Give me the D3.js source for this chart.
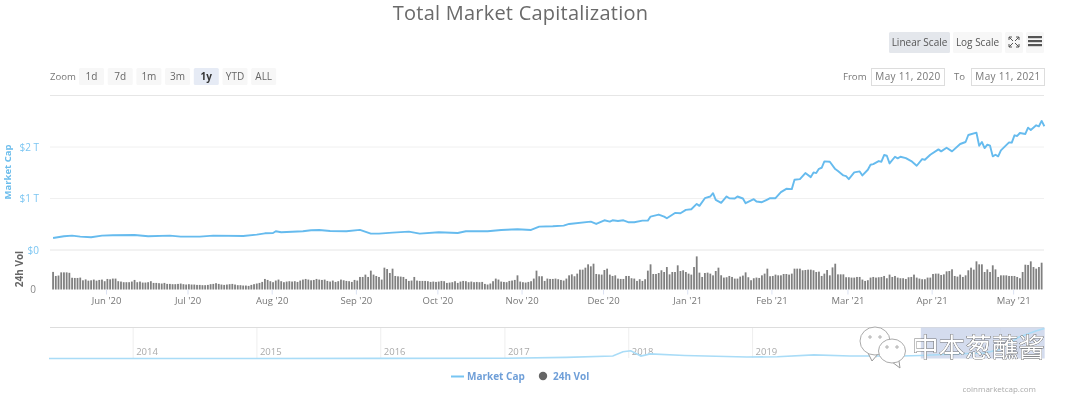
<!DOCTYPE html>
<html>
<head>
<meta charset="utf-8">
<script src="https://cdn.jsdelivr.net/npm/d3@7"></script>
<style>
  html, body { margin: 0; padding: 0; background: #fff; overflow: hidden; }
  svg { display: block; font-family: "Open Sans", "Noto Sans", sans-serif; filter: blur(0.35px); }
  svg text { font-family: "Open Sans", "Noto Sans", sans-serif; }
  .domain { display: none; }
</style>
</head>
<body>
<div id="graph"></div>
<script>
// market cap: days after the first point, value in $T
var capDays = [0,4,7,10,14,18,22,30,35,43,47,54,59,70,75,78,81,82,84,92,95,98,102,108,113,117,120,125,131,135,142,149,152,160,165,171,176,179,184,188,190,
  198,200,203,205,206,208,210,212,214,217,219,220,223,225,226,229,231,233,235,237,238,240,242,243,244,246,248,249,251,252,254,255,258,259,261,263,264,266,268,270,272,273,275,277,279,280,281,282,283,284,286,288,289,291,292,293,295,297,298,300,301,302,304,305,306,307,308,310,311,312,314,316,318,320,321,323,326,327,329,331,334,336,337,340,341,342,343,344,345,346,347,348,349,352,353,354,355,356,358,359,360,362,363,364,365];
var capValues = [.234,.266,.279,.26,.247,.279,.285,.292,.266,.279,.26,.26,.279,.272,.298,.324,.331,.363,.344,.363,.383,.389,.37,.363,.39,.318,.318,.337,.357,.318,.344,.331,.363,.363,.389,.402,.389,.454,.461,.474,.506,
  .55,.506,.577,.551,.577,.564,.577,.538,.538,.571,.571,.649,.688,.649,.616,.72,.714,.779,.792,.895,.857,1.006,1.039,1.104,.974,.916,1.039,1.006,1,1.039,1,.909,.987,.941,.928,.98,1.006,1.006,1.123,1.188,1.182,1.363,1.376,1.493,1.415,1.506,1.493,1.577,1.597,1.72,1.714,1.571,1.532,1.448,1.435,1.376,1.506,1.526,1.448,1.558,1.655,1.668,1.727,1.714,1.844,1.831,1.681,1.811,1.779,1.811,1.785,1.727,1.636,1.766,1.753,1.85,1.954,1.915,1.986,1.915,2.058,2.097,2.233,2.278,2.025,2.097,1.98,2.045,2.025,1.818,1.85,1.818,1.935,2.09,2.084,2.227,2.214,2.272,2.253,2.376,2.33,2.421,2.402,2.506,2.402];

// 24h volume per day, in $B
var volValues = [
  195,150,155,190,190,190,185,130,128,128,132,102,112,98,102,110,98,106,110,92,117,113,121,121,92,88,81,81,81,88,106,
  81,88,77,77,81,92,73,73,70,66,73,62,62,59,59,62,66,59,55,59,55,55,51,51,48,48,51,59,62,70,
  62,55,51,55,59,62,55,48,48,44,44,40,51,59,66,73,84,117,106,92,81,99,110,92,81,88,92,88,92,84,
  99,110,117,110,102,106,117,110,106,110,95,88,99,84,92,110,102,95,92,84,106,99,
  139,139,165,139,209,165,150,139,110,242,
  227,183,231,150,146,143,139,117,95,99,
  139,99,95,95,95,92,84,88,84,88,
  95,92,73,77,81,92,73,88,95,92,
  81,88,81,84,81,84,62,55,66,92,
  121,110,88,84,81,95,99,106,157,88,
  81,77,84,92,121,209,147,147,95,121,
  117,117,121,114,106,99,121,157,168,147,
  176,220,220,242,279,257,286,172,168,165,
  216,231,165,150,157,121,117,117,150,150,
  125,121,95,114,95,114,209,279,172,172,
  183,213,194,249,168,194,194,268,205,213,
  194,176,165,249,367,187,139,183,187,176,
  157,205,242,
  158,132,136,150,139,121,121,143,154,190,
  136,103,125,132,128,157,176,231,147,150,
  165,157,157,172,172,165,176,231,231,231,
  213,216,220,220,213,194,198,150,176,216,
  157,245,286,168,168,168,136,136,132,132,
  139,139,110,95,103,132,139,132,136,139,
  150,125,165,139,150,132,125,125,117,136,
  139,165,132,121,114,114,132,132,172,176,
  176,161,168,201,205,224,150,143,165,139,
  157,213,242,220,312,279,279,194,223,194,
  268,223,139,157,157,157,150,150,150,139,
  125,194,275,272,312,249,231,249,297];

// navigator overview line, whole history
var navDates = ["2013-04-28","2016-01-01","2017-01-01","2017-07-01","2017-11-15","2017-12-15","2018-01-07","2018-02-06","2018-03-05","2018-06-15","2018-12-15","2019-03-15","2019-07-01","2019-10-15","2020-03-15","2020-05-11","2020-08-15","2020-11-15","2021-01-01","2021-02-20","2021-04-15","2021-05-10"];
var navValues = [.002,.007,.018,.09,.2,.55,.63,.2,.38,.25,.12,.14,.3,.2,.2,.25,.37,.45,.75,1.7,2.25,2.45];

var navYears = ["2014","2015","2016","2017","2018","2019","2020","2021"];
var zoomLabels = ["1d","7d","1m","3m","1y","YTD","ALL"];
var capTicks = [0,1,2];

var parseDay = d3.timeParse("%Y-%m-%d");
var rangeStart = new Date(2020, 4, 11);
// the plotted points sit a little after the month ticks would put May 11
var firstPoint = new Date(2020, 4, 12, 12);
function dayAt(i) { return d3.timeDay.offset(firstPoint, i); }

var svg = d3.select("#graph").append("svg")
  .attr("width", 1080)
  .attr("height", 394);

// scales
var graphX = d3.scaleTime().domain([rangeStart, new Date(2021, 4, 12)]).range([49, 1043]);
var capY = d3.scaleLinear().domain([0, 3]).range([250, 95.5]);
var volY = d3.scaleLinear().domain([0, 440]).range([289.5, 249.8]);
var navX = d3.scaleTime().domain([new Date(2013, 3, 28), new Date(2021, 4, 12)]).range([49, 1045]);
var navY = d3.scaleLinear().domain([0, 2.54]).range([358.5, 327.5]);

// title
svg.append("text")
  .attr("x", 520.5).attr("y", 20)
  .attr("text-anchor", "middle")
  .style("font-size", "20px")
  .style("letter-spacing", "0.23px")
  .style("fill", "#6a6a6a")
  .text("Total Market Capitalization");

// small helper for the export style buttons
function button(x, y, w, h, label, fill, color, weight) {
  svg.append("rect").attr("x", x).attr("y", y).attr("width", w).attr("height", h)
    .attr("rx", 1.5).style("fill", fill);
  if (label) {
    svg.append("text").attr("x", x + w / 2).attr("y", y + h / 2 + 3.5)
      .attr("text-anchor", "middle")
      .style("font-size", "10px")
      .style("fill", color)
      .style("font-weight", weight || "normal")
      .text(label);
  }
}

// scale buttons and icons
button(889, 32, 61, 21, "Linear Scale", "#e4e7ec", "#555");
button(953, 32, 49, 21, "Log Scale", "#f7f7f7", "#555");
button(1005, 32, 18, 21, null, "#f7f7f7");
button(1026, 32, 18, 21, null, "#f7f7f7");
[[1009,37,1,1],[1019,37,-1,1],[1009,47,1,-1],[1019,47,-1,-1]].forEach(function(c) {
  svg.append("path")
    .attr("d", "M" + c[0] + "," + c[1] + "h" + 3 * c[2] + "M" + c[0] + "," + c[1] + "v" + 3 * c[3] + "M" + c[0] + "," + c[1] + "l" + 4 * c[2] + "," + 4 * c[3])
    .style("stroke", "#555").style("fill", "none");
});
[37, 41, 45].forEach(function(y) {
  svg.append("rect").attr("x", 1028).attr("y", y - 1).attr("width", 14).attr("height", 2.2).style("fill", "#555");
});

// range selector
svg.append("text").attr("x", 50).attr("y", 80).style("font-size", "9.6px").style("fill", "#777").text("Zoom");
zoomLabels.forEach(function(d, i) {
  var selected = d === "1y";
  button(79 + i * 28.7, 68, 25, 17, d, selected ? "#e6ebf5" : "#f7f7f7", selected ? "#333" : "#666", selected ? "bold" : "normal");
});

function dateBox(x, label) {
  svg.append("rect").attr("x", x + 0.5).attr("y", 68.5).attr("width", 73).attr("height", 17)
    .style("fill", "#fff").style("stroke", "#ddd");
  svg.append("text").attr("x", x + 37).attr("y", 80).attr("text-anchor", "middle")
    .style("font-size", "10px").style("letter-spacing", "0.3px").style("fill", "#777").text(label);
}
svg.append("text").attr("x", 843).attr("y", 80).style("font-size", "9.6px").style("fill", "#777").text("From");
dateBox(871, "May 11, 2020");
svg.append("text").attr("x", 954).attr("y", 80).style("font-size", "9.6px").style("fill", "#777").text("To");
dateBox(971, "May 11, 2021");

// top border of the plot
svg.append("line").attr("x1", 50).attr("x2", 1044).attr("y1", 95.5).attr("y2", 95.5).style("stroke", "#e6e6e6");

// market cap axis and grid
var capAxis = svg.append("g")
  .attr("transform", "translate(50,0)")
  .call(d3.axisLeft(capY).tickValues(capTicks).tickSize(0).tickPadding(11)
    .tickFormat(function(d) { return d === 0 ? "$0" : "$" + d + " T"; }));
capAxis.selectAll("text").style("font-size", "10px").style("fill", "#7cc6f2");

svg.selectAll(".grid").data(capTicks).enter().append("line")
  .attr("class", "grid")
  .attr("x1", 50).attr("x2", 1044)
  .attr("y1", function(d) { return capY(d); })
  .attr("y2", function(d) { return capY(d); })
  .style("stroke", function(d) { return d === 0 ? "#e6e6e6" : "#f0f0f0"; });

svg.append("text")
  .attr("transform", "translate(10.5,172)rotate(-90)")
  .attr("text-anchor", "middle")
  .style("font-size", "9.5px").style("font-weight", "bold").style("fill", "#6cbdec")
  .text("Market Cap");

// volume axis
var volAxis = svg.append("g")
  .attr("transform", "translate(50,0)")
  .call(d3.axisLeft(volY).tickValues([0]).tickSize(0).tickPadding(14));
volAxis.selectAll("text").style("font-size", "10px").style("fill", "#888");

svg.append("text")
  .attr("transform", "translate(22.5,269)rotate(-90)")
  .attr("text-anchor", "middle")
  .style("font-size", "10px").style("font-weight", "bold").style("fill", "#666")
  .text("24h Vol");

// volume bars
svg.selectAll(".bar").data(volValues).enter().append("rect")
  .attr("class", "bar")
  .attr("x", function(d, i) { return graphX(dayAt(i)) - 0.9; })
  .attr("y", function(d) { return volY(d); })
  .attr("width", 1.8)
  .attr("height", function(d) { return volY(0) - volY(d); })
  .style("fill", "#808080");

// market cap line
var capLine = d3.line()
  .x(function(d) { return graphX(dayAt(d)); })
  .y(function(d, i) { return capY(capValues[i]); });
svg.append("path")
  .datum(capDays)
  .attr("d", capLine)
  .style("fill", "none")
  .style("stroke", "#66bbee")
  .style("stroke-width", 1.9)
  .style("stroke-linejoin", "round");

// x axis
var xAxis = svg.append("g")
  .attr("transform", "translate(0,289.5)")
  .call(d3.axisBottom(graphX)
    .tickValues(d3.timeMonth.range(new Date(2020, 5, 1), new Date(2021, 5, 1)))
    .tickSize(5).tickPadding(3)
    .tickFormat(d3.timeFormat("%b '%y")));
xAxis.selectAll("line").style("stroke", "#dbe2f2");
xAxis.selectAll("text").style("font-size", "9.5px").style("fill", "#777");

// navigator
svg.append("line").attr("x1", 50).attr("x2", 1044).attr("y1", 327.5).attr("y2", 327.5).style("stroke", "#ddd");
var navYearDates = navYears.map(function(d) { return new Date(+d, 0, 1); });
svg.selectAll(".navgrid").data(navYearDates).enter().append("line")
  .attr("class", "navgrid")
  .attr("x1", function(d) { return navX(d); })
  .attr("x2", function(d) { return navX(d); })
  .attr("y1", 328).attr("y2", 358)
  .style("stroke", "#eee");
svg.selectAll(".navlabel").data(navYears).enter().append("text")
  .attr("class", "navlabel")
  .attr("x", function(d) { return navX(new Date(+d, 0, 1)) + 3; })
  .attr("y", 355)
  .style("font-size", "9.5px").style("fill", "#aaa")
  .text(function(d) { return d; });

// selected window in the navigator
svg.append("rect")
  .attr("x", navX(rangeStart)).attr("y", 327.5)
  .attr("width", navX(new Date(2021, 4, 11)) - navX(rangeStart)).attr("height", 31)
  .style("fill", "#ccd6eb").style("opacity", 0.85);

var navLine = d3.line()
  .x(function(d) { return navX(parseDay(d)); })
  .y(function(d, i) { return navY(navValues[i]); });
svg.append("path")
  .datum(navDates)
  .attr("d", navLine)
  .style("fill", "none")
  .style("stroke", "#a9dcf7")
  .style("stroke-width", 1.6);

// legend
svg.append("line").attr("x1", 451).attr("x2", 464).attr("y1", 376.5).attr("y2", 376.5)
  .style("stroke", "#77c5f2").style("stroke-width", 2);
svg.append("text").attr("x", 467).attr("y", 380)
  .style("font-size", "10px").style("font-weight", "bold").style("fill", "#6f9fd8").text("Market Cap");
svg.append("circle").attr("cx", 543).attr("cy", 376).attr("r", 4.2).style("fill", "#666");
svg.append("text").attr("x", 553).attr("y", 380)
  .style("font-size", "10px").style("font-weight", "bold").style("fill", "#6f9fd8").text("24h Vol");

svg.append("text").attr("x", 1036).attr("y", 392).attr("text-anchor", "end")
  .style("font-size", "8px").style("fill", "#aaa").text("coinmarketcap.com");

// wechat watermark over the navigator
[[875, 341, 15, 14, "868,353 872,361 878,354"], [892, 351, 13.5, 12, "892,362 900,368 899,361"]].forEach(function(b) {
  svg.append("polygon").attr("points", b[4]).style("fill", "#fff").style("stroke", "#999");
  svg.append("ellipse").attr("cx", b[0]).attr("cy", b[1]).attr("rx", b[2]).attr("ry", b[3])
    .style("fill", "#fff").style("stroke", "#aaa");
  [-5, 5].forEach(function(o) {
    svg.append("circle").attr("cx", b[0] + o).attr("cy", b[1] - 4).attr("r", 1.2)
      .style("fill", "#fff").style("stroke", "#888").style("stroke-width", 0.7);
  });
});
svg.append("text")
  .attr("x", 912).attr("y", 356.5)
  .style("font-family", "'Noto Sans CJK SC'")
  .style("font-size", "26.6px")
  .style("fill", "#fff")
  .style("stroke", "#777")
  .style("stroke-width", 0.5)
  .style("paint-order", "stroke")
  .style("filter", "drop-shadow(0.8px 0.8px 0.4px #555)")
  .text("中本葱蘸酱");
</script>
</body>
</html>
